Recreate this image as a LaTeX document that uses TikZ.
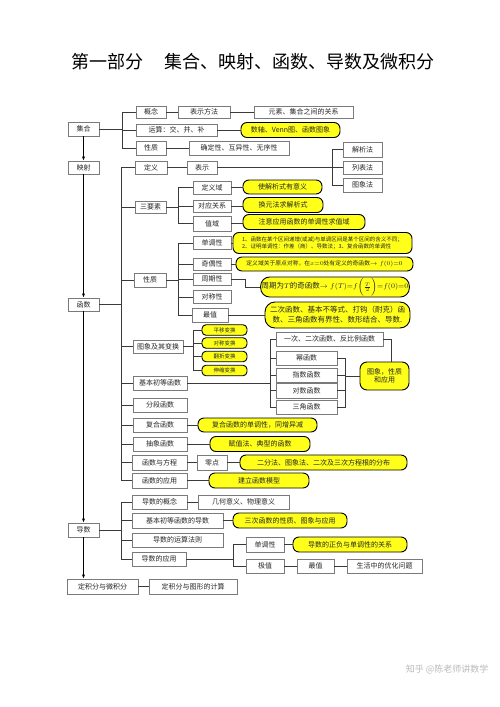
\documentclass[tikz,border=0pt]{standalone}
\usepackage{fontspec}
\newfontfamily\cjk{Noto Sans CJK SC}
\usepackage{tikz}
\usetikzlibrary{arrows.meta,positioning,calc}
\definecolor{mmInk}{HTML}{262626}
\definecolor{mmGray}{HTML}{7A7A7A}
\definecolor{mmWire}{HTML}{3A3A3A}
\definecolor{mmYellow}{HTML}{FFFF1A}
\tikzset{
  mmBox/.style={draw=mmGray,fill=white,line width=0.7pt,
    font=\cjk\fontsize{7}{8}\selectfont,text=mmInk,inner sep=0pt,
    minimum height=14pt,minimum width=#1pt,align=center},
  mmBox/.default=30,
  mmNote/.style={draw=black,fill=mmYellow,rounded corners=6pt,line width=0.9pt,
    font=\cjk\fontsize{7}{8}\selectfont,text=mmInk,inner sep=1pt,
    minimum height=15pt,minimum width=#1pt,align=center},
  mmNote/.default=60,
  mmTiny/.style={font=\cjk\fontsize{5.5}{6}\selectfont,minimum height=10.5pt,rounded corners=4pt},
  mmWire/.style={draw=mmWire,line width=0.6pt},
  mmArrow/.style={-{Latex[length=4pt,width=3pt]},draw=black,line width=0.7pt}
}
\begin{document}
\begin{tikzpicture}[x=1pt,y=-1pt]
\path[use as bounding box] (0,0) rectangle (500,707);
\node[font=\cjk\fontsize{18}{20}\selectfont,text=black] (title) at (253,62)
  {第一部分\hspace{1.2em}集合、映射、函数、导数及微积分};
% 集合
\node[mmBox=31] (jihe) at (83.5,129) {集合};
\node[mmBox=30,minimum height=12pt] (gainian) at (151,112) {概念};
\node[mmBox=52,minimum height=12pt] (fangfa) at (204,112) {表示方法};
\node[mmBox=99,minimum height=12pt] (guanxi) at (303.5,112) {元素、集合之间的关系};
\node[mmBox=81,minimum height=12pt] (yunsuan) at (176.5,130) {运算：交、并、补};
\node[mmNote=99] (venn) at (290.5,130) {数轴、Venn图、函数图象};
\node[mmBox=30] (xingzhiA) at (151,148) {性质};
\node[mmBox=100] (queding) at (239,148) {确定性、互异性、无序性};
% 映射, 函数
\node[mmBox=31,minimum height=13pt] (yingshe) at (83.5,167.5) {映射};
\node[mmBox=32,minimum height=13pt] (dingyi) at (151,167.5) {定义};
\node[mmBox=30,minimum height=13pt] (biaoshi) at (202,167.5) {表示};
\node[mmBox=39,minimum height=15pt] (jiexi) at (362.5,149.5) {解析法};
\node[mmBox=39,minimum height=13pt] (liebiao) at (362.5,167.5) {列表法};
\node[mmBox=39] (tuxiang) at (362.5,185) {图象法};
\node[mmBox=31,minimum height=12pt] (sanyaosu) at (150.5,207) {三要素};
\node[mmBox=38,minimum height=13pt] (dingyiyu) at (212,187.5) {定义域};
\node[mmBox=38,minimum height=12pt] (duiying) at (212,206) {对应关系};
\node[mmBox=38,minimum height=15pt] (zhiyu) at (212,223.5) {值域};
\node[mmNote=79,minimum height=14pt] (yA) at (282.5,187) {使解析式有意义};
\node[mmNote=80] (yB) at (283,205) {换元法求解析式};
\node[mmNote=122] (yC) at (304,222) {注意应用函数的单调性求值域};
\node[mmBox=32] (xingzhiB) at (150,280) {性质};
\node[mmBox=38,minimum height=13pt] (dandiao) at (212,243) {单调性};
\node[mmNote=179,minimum height=21pt,font=\cjk\fontsize{5.5}{7.5}\selectfont,align=left]
  (ydandiao) at (322.5,243) {1、函数在某个区间递增(或减)与单调区间是某个区间的含义不同；\\
  2、证明单调性：作差（商）、导数法；3、复合函数的单调性};
\node[mmBox=38,minimum height=12pt] (jiou) at (212,264) {奇偶性};
\node[mmNote=177,minimum height=14pt,font=\cjk\fontsize{5.8}{7}\selectfont]
  (yjiou) at (324.5,264) {定义域关于原点对称，在$x{=}0$处有定义的奇函数$\rightarrow f(0){=}0$};
\node[mmBox=38,minimum height=12pt] (zhouqi) at (212,279) {周期性};
\node[mmNote=146,minimum height=20pt,font=\cjk\fontsize{7.5}{9}\selectfont,rounded corners=9pt]
  (yzhouqi) at (335,287) {周期为$T$的奇函数$\rightarrow f(T){=}f\bigl(\frac{T}{2}\bigr){=}f(0){=}0$};
\node[mmBox=38,minimum height=13pt] (duicheng) at (212,297) {对称性};
\node[mmBox=31,minimum height=13pt] (hanshu) at (83.5,304.5) {函数};
\node[mmBox=36] (zuizhi) at (210,315) {最值};
\node[mmNote=145,minimum height=26pt,font=\cjk\fontsize{7.5}{10}\selectfont,rounded corners=10pt]
  (yzuizhi) at (337.5,315) {二次函数、基本不等式、打钩（耐克）函\\数、三角函数有界性、数形结合、导数.};
\node[mmBox=50,minimum height=13pt] (tubian) at (158,346.5) {图象及其变换};
\node[mmNote=45,mmTiny] (pingyi) at (224.5,330) {平移变换};
\node[mmNote=45,mmTiny] (duichengbh) at (224.5,343) {对称变换};
\node[mmNote=45,mmTiny] (fanzhe) at (224.5,356.5) {翻折变换};
\node[mmNote=45,mmTiny] (shensuo) at (224.5,370.5) {伸缩变换};
\node[mmBox=54] (jiben) at (160,383) {基本初等函数};
\node[mmBox=107] (yici) at (329.5,339) {一次、二次函数、反比例函数};
\node[mmBox=61] (mi) at (306.5,358) {幂函数};
\node[mmBox=61] (zhishu) at (306.5,375) {指数函数};
\node[mmBox=61,minimum height=15pt] (duishu) at (306.5,390.5) {对数函数};
\node[mmBox=61] (sanjiao) at (306.5,407) {三角函数};
\node[mmNote=49,minimum height=28pt,rounded corners=7pt] (ytu) at (384.5,376) {图象，性质\\和应用};
\node[mmBox=54] (fenduan) at (160,405) {分段函数};
\node[mmBox=54] (fuhe) at (160,425) {复合函数};
\node[mmNote=119,minimum height=14pt] (yfuhe) at (257.5,425) {复合函数的单调性，同增异减};
\node[mmBox=54] (chouxiang) at (160,444) {抽象函数};
\node[mmNote=100] (ychouxiang) at (260,444) {赋值法、典型的函数};
\node[mmBox=55,minimum height=15pt] (fangcheng) at (159.5,462.5) {函数与方程};
\node[mmBox=30,minimum height=15pt] (lingdian) at (212,462.5) {零点};
\node[mmNote=167] (ylingdian) at (323.5,462.5) {二分法、图象法、二次及三次方程根的分布};
\node[mmBox=55,minimum height=15pt] (yingyong) at (159.5,480.5) {函数的应用};
\node[mmNote=100] (yyingyong) at (259,480.5) {建立函数模型};
% 导数
\node[mmBox=31] (daoshu) at (83.5,530) {导数};
\node[mmBox=55] (gainianD) at (159.5,502) {导数的概念};
\node[mmBox=91] (jihe2) at (243.5,502) {几何意义、物理意义};
\node[mmBox=91,minimum height=15pt] (jibenD) at (177.5,520.5) {基本初等函数的导数};
\node[mmNote=114] (ysanci) at (290,520.5) {三次函数的性质、图象与应用};
\node[mmBox=91] (yunsuanD) at (177.5,540) {导数的运算法则};
\node[mmBox=54] (yingyongD) at (159,559) {导数的应用};
\node[mmBox=38,minimum height=15pt] (dandiaoD) at (265,544.5) {单调性};
\node[mmNote=114] (ydandiaoD) at (350,544.5) {导数的正负与单调性的关系};
\node[mmBox=38] (jizhi) at (265,566) {极值};
\node[mmBox=37] (zuizhiD) at (315.5,566) {最值};
\node[mmBox=75] (youhua) at (384.5,566) {生活中的优化问题};
\node[mmBox=71,minimum height=15pt] (dingjifen) at (102.5,586.5) {定积分与微积分};
\node[mmBox=88,minimum height=15pt] (tuxingjs) at (193,586.5) {定积分与图形的计算};
\node[font=\cjk\fontsize{9}{10}\selectfont,text=gray!55,anchor=east] (mark) at (492,669) {知乎 @陈老师讲数学};
% trunk arrows
\foreach \from/\to in {jihe/yingshe,yingshe/hanshu,hanshu/daoshu}
  \draw[mmArrow] (\from.south) -- (\to.north);
\draw[mmArrow] (daoshu.south) -- (daoshu.south |- dingjifen.north);
% branches
\foreach \to in {gainian,yunsuan,xingzhiA}
  \draw[mmWire] (jihe.east) -- ++(23,0) |- (\to.west);
\foreach \to in {dingyi,sanyaosu,xingzhiB,tubian,jiben,fenduan,fuhe,chouxiang,fangcheng,yingyong}
  \draw[mmWire] (hanshu.east) -- ++(22,0) |- (\to.west);
\foreach \to in {jiexi,liebiao,tuxiang}
  \draw[mmWire] (biaoshi.east) -- ++(115,0) |- (\to.west);
\foreach \to in {dingyiyu,duiying,zhiyu}
  \draw[mmWire] (sanyaosu.east) -- ++(12,0) |- (\to.west);
\foreach \to in {dandiao,jiou,zhouqi,duicheng,zuizhi}
  \draw[mmWire] (xingzhiB.east) -- ++(12,0) |- (\to.west);
\foreach \to in {pingyi,duichengbh,fanzhe,shensuo}
  \draw[mmWire] (tubian.east) -- ++(10,0) |- (\to.west);
\foreach \to in {yici,mi,zhishu,duishu,sanjiao}
  \draw[mmWire] (jiben.east) -- ++(83,0) |- (\to.west);
\foreach \from in {mi,zhishu,duishu,sanjiao}
  \draw[mmWire] (\from.east) -- ++(8,0) |- (ytu.west);
\draw[mmWire] (yici.east) -| ([xshift=7pt]ytu.north);
\draw[mmWire] (zhouqi.east) -- ++(14,0) |- (yzhouqi.west);
\foreach \to in {gainianD,jibenD,yunsuanD,yingyongD}
  \draw[mmWire] (daoshu.east) -- ++(22,0) |- (\to.west);
\foreach \to in {dandiaoD,jizhi}
  \draw[mmWire] (yingyongD.east) -- ++(47,0) |- (\to.west);
\foreach \from/\to in {gainian/fangfa,fangfa/guanxi,yunsuan/venn,xingzhiA/queding,
    dingyi/biaoshi,dingyiyu/yA,duiying/yB,zhiyu/yC,dandiao/ydandiao,jiou/yjiou,
    zuizhi/yzuizhi,fuhe/yfuhe,chouxiang/ychouxiang,fangcheng/lingdian,lingdian/ylingdian,
    yingyong/yyingyong,gainianD/jihe2,jibenD/ysanci,dandiaoD/ydandiaoD,jizhi/zuizhiD,
    zuizhiD/youhua,dingjifen/tuxingjs}
  \draw[mmWire] (\from.east) -- (\from.east -| \to.west);
\end{tikzpicture}
\end{document}
